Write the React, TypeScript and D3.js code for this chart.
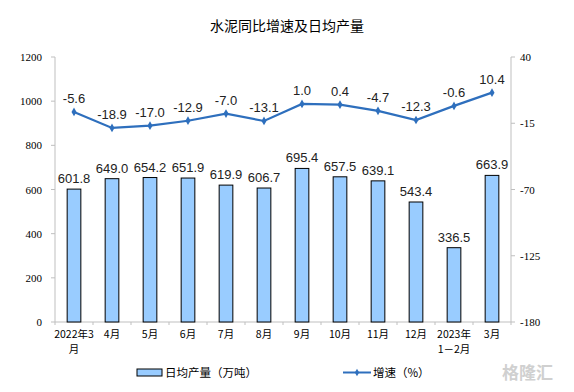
import React from 'react';
import * as d3 from 'd3';

// --- data ---
const categories = ['2022年3\n月', '4月', '5月', '6月', '7月', '8月', '9月', '10月', '11月', '12月', '2023年\n1－2月', '3月'];
const output = [601.8, 649.0, 654.2, 651.9, 619.9, 606.7, 695.4, 657.5, 639.1, 543.4, 336.5, 663.9];
const growth = [-5.6, -18.9, -17.0, -12.9, -7.0, -13.1, 1.0, 0.4, -4.7, -12.3, -0.6, 10.4];
const leftTicks = [0, 200, 400, 600, 800, 1000, 1200];
const rightTicks = [40, -15, -70, -125, -180];

const W = 574, H = 392;
const M = { left: 55, right: 511, top: 57, bottom: 322 };

const App: React.FC = () => {
    const x = d3.scaleBand<number>()
        .domain(d3.range(categories.length))
        .range([M.left, M.right])
        .paddingInner(0.64)
        .paddingOuter(0.32);
    const yL = d3.scaleLinear().domain([0, 1200]).range([M.bottom, M.top]);
    const yR = d3.scaleLinear().domain([-180, 40]).range([M.bottom, M.top]);
    const cx = (i: number) => (x(i) || 0) + x.bandwidth() / 2;
    const step = (M.right - M.left) / categories.length;

    const line = d3.line<number>()
        .x((_, i) => cx(i))
        .y(d => yR(d));

    const lineColor = '#2e6fbd';
    const axisColor = '#bfbfbf';
    const tickFont = '"Liberation Serif", "DejaVu Serif", serif';
    const labelFont = '"Liberation Sans", Arial, sans-serif';
    const cjkFont = '"Noto Sans CJK SC", sans-serif';

    return (
        <svg width={W} height={H} style={{ position: 'absolute', left: 0, top: 0, background: '#fff' }}>
            <text x={287} y={31} textAnchor="middle" fontFamily={cjkFont} fontSize={14} fill="#000">
                水泥同比增速及日均产量
            </text>

            {/* axes */}
            <line x1={M.left} x2={M.left} y1={M.top} y2={M.bottom} stroke={axisColor} />
            <line x1={M.right} x2={M.right} y1={M.top} y2={M.bottom} stroke={axisColor} />
            <line x1={M.left} x2={M.right} y1={M.bottom} y2={M.bottom} stroke={axisColor} />
            {leftTicks.map(t => (
                <g key={'l' + t}>
                    <line x1={M.left - 4} x2={M.left} y1={yL(t)} y2={yL(t)} stroke={axisColor} />
                    <text x={42} y={yL(t) + 4} textAnchor="end" fontFamily={tickFont} fontSize={11} fill="#000">{t}</text>
                </g>
            ))}
            {rightTicks.map(t => (
                <g key={'r' + t}>
                    <line x1={M.right} x2={M.right + 4} y1={yR(t)} y2={yR(t)} stroke={axisColor} />
                    <text x={520} y={yR(t) + 4} textAnchor="start" fontFamily={tickFont} fontSize={11} fill="#000">{t}</text>
                </g>
            ))}
            {d3.range(categories.length + 1).map(i => (
                <line key={'xt' + i} x1={M.left + i * step} x2={M.left + i * step} y1={M.bottom} y2={M.bottom + 3} stroke={axisColor} />
            ))}

            {/* x labels */}
            {categories.map((c, i) => (
                <text key={'c' + i} x={cx(i)} y={338} textAnchor="middle" fontFamily={cjkFont} fontSize={10.5} fill="#000">
                    {c.split('\n').map((s, k) => (
                        <tspan key={k} x={cx(i)} dy={k === 0 ? 0 : 15}>{s}</tspan>
                    ))}
                </text>
            ))}

            {/* bars */}
            {output.map((v, i) => (
                <g key={'b' + i}>
                    <rect x={x(i)} y={yL(v)} width={x.bandwidth()} height={M.bottom - yL(v)}
                        fill="#99ccff" stroke="#000" strokeWidth={1} />
                    <text x={cx(i)} y={yL(v) - 6} textAnchor="middle" fontFamily={labelFont} fontSize={13} fill="#222">
                        {v.toFixed(1)}
                    </text>
                </g>
            ))}

            {/* growth line */}
            <path d={line(growth) || ''} fill="none" stroke={lineColor} strokeWidth={2.2} />
            {growth.map((v, i) => (
                <g key={'p' + i}>
                    <path d={d3.symbol(d3.symbolDiamond, 22)() || ''} transform={`translate(${cx(i)},${yR(v)})`} fill={lineColor} />
                    <text x={cx(i)} y={yR(v) - 9} textAnchor="middle" fontFamily={labelFont} fontSize={13} fill="#222">
                        {v.toFixed(1)}
                    </text>
                </g>
            ))}

            {/* legend */}
            <rect x={137} y={369} width={25} height={7} fill="#99ccff" stroke="#000" strokeWidth={1} />
            <text x={165} y={377} fontFamily={cjkFont} fontSize={11.5} fill="#000">日均产量（万吨）</text>
            <line x1={343} x2={371} y1={372.5} y2={372.5} stroke={lineColor} strokeWidth={2} />
            <path d={d3.symbol(d3.symbolDiamond, 16)() || ''} transform="translate(357,372.5)" fill={lineColor} />
            <text x={373} y={377} fontFamily={cjkFont} fontSize={11.5} fill="#000">增速（%）</text>

            {/* watermark */}
            <text x={502} y={379} fontFamily={cjkFont} fontSize={17} fill="#d0d0d0" fontWeight="bold">格隆汇</text>
        </svg>
    );
};

export default App;
